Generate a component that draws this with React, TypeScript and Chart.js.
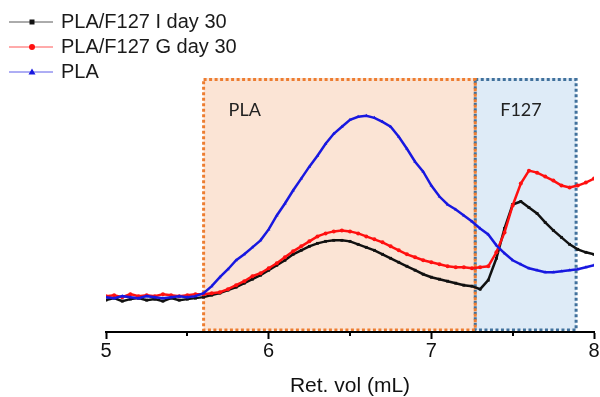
import React, { useEffect, useRef } from "react";
import { Chart, registerables } from "chart.js";

Chart.register(...registerables);

// Retention volume (mL)
const retVol = [
  5.0, 5.05, 5.1, 5.15, 5.2, 5.25, 5.3, 5.35, 5.4, 5.45, 5.5, 5.55, 5.6, 5.65, 5.7, 5.75, 5.8, 5.85, 5.9, 5.95,
  6.0, 6.05, 6.1, 6.15, 6.2, 6.25, 6.3, 6.35, 6.4, 6.45, 6.5, 6.55, 6.6, 6.65, 6.7, 6.75, 6.8, 6.85, 6.9, 6.95,
  7.0, 7.05, 7.1, 7.15, 7.2, 7.25, 7.3, 7.35, 7.4, 7.45, 7.5, 7.55, 7.6, 7.65, 7.7, 7.75, 7.8, 7.85, 7.9, 7.95,
  8.0,
];

const seriesLabels = ["PLA/F127 I day 30", "PLA/F127 G day 30", "PLA"];

// Detector response (arbitrary units)
const plaF127I = [
  3.2, 3.4, 3.1, 3.3, 3.4, 3.2, 3.3, 3.1, 3.4, 3.2, 3.3, 3.4, 3.5, 3.7, 3.9, 4.2, 4.5, 4.9, 5.3, 5.7,
  6.2, 6.7, 7.2, 7.8, 8.2, 8.6, 8.9, 9.1, 9.2, 9.2, 9.1, 8.8, 8.5, 8.2, 7.8, 7.4, 7.0, 6.6, 6.2, 5.8,
  5.5, 5.3, 5.1, 4.9, 4.7, 4.6, 4.3, 5.2, 7.4, 10.4, 12.8, 13.1, 12.5, 11.9, 11.0, 10.2, 9.5, 8.8, 8.3, 8.0,
  7.8,
];
const plaF127G = [
  3.6, 3.7, 3.5, 3.8, 3.6, 3.7, 3.6, 3.8, 3.7, 3.6, 3.7, 3.8, 3.8, 3.9, 4.0, 4.3, 4.7, 5.1, 5.6, 5.9,
  6.4, 6.9, 7.5, 8.1, 8.6, 9.1, 9.6, 9.9, 10.1, 10.2, 10.1, 9.9, 9.6, 9.3, 9.0, 8.6, 8.2, 7.8, 7.5, 7.2,
  7.0, 6.8, 6.6, 6.5, 6.5, 6.4, 6.5, 6.6, 8.0, 10.0, 12.7, 14.9, 16.2, 16.0, 15.6, 15.2, 14.7, 14.5, 14.7, 15.0,
  15.4,
];
const plaOnly = [
  3.5, 3.4, 3.6, 3.5, 3.4, 3.6, 3.5, 3.4, 3.5, 3.6, 3.5, 3.6, 3.9, 4.6, 5.5, 6.3, 7.2, 7.8, 8.5, 9.2,
  10.3, 11.7, 12.9, 14.2, 15.4, 16.6, 17.7, 18.9, 19.9, 20.6, 21.3, 21.6, 21.7, 21.5, 21.1, 20.6, 19.6, 18.4, 17.1, 16.1,
  14.7, 13.6, 12.8, 12.3, 11.7, 11.1, 10.4, 9.8, 8.7, 7.9, 7.2, 6.8, 6.4, 6.2, 6.0, 6.0, 6.1, 6.2, 6.3, 6.5,
  6.7,
];

const xTicks = [5, 6, 7, 8];
const xMinorTicks = [5.5, 6.5, 7.5];
const xTitle = "Ret. vol (mL)";

const regionLabels = ["PLA", "F127"];
const regionStart = [5.6, 7.27];
const regionEnd = [7.27, 7.89];

const SANS = "'Liberation Sans', Arial, sans-serif";

export default function App() {
  const ref = useRef<HTMLCanvasElement>(null);

  useEffect(() => {
    const canvas = ref.current;
    if (!canvas) return;

    const regionStyles = [
      { fill: "#FBE4D5", stroke: "#ED7D31" },
      { fill: "#DEEBF7", stroke: "#41719C" },
    ];

    const regionPlugin = {
      id: "regions",
      beforeDraw(chart: any) {
        const { ctx, chartArea } = chart;
        const x = chart.scales.x;
        const top = chartArea.top;
        const bottom = chartArea.bottom - 2;
        ctx.save();
        for (let i = 0; i < regionStart.length; i++) {
          const l = x.getPixelForValue(regionStart[i]);
          const r = x.getPixelForValue(regionEnd[i]);
          ctx.fillStyle = regionStyles[i].fill;
          ctx.fillRect(l, top, r - l, bottom - top);
        }
        ctx.lineWidth = 3;
        ctx.setLineDash([3, 2.5]);
        for (let i = regionStart.length - 1; i >= 0; i--) {
          const l = x.getPixelForValue(regionStart[i]);
          const r = x.getPixelForValue(regionEnd[i]);
          ctx.strokeStyle = regionStyles[i].stroke;
          ctx.strokeRect(l, top + 1.5, r - l, bottom - top - 1.5);
        }
        ctx.setLineDash([]);
        ctx.fillStyle = "#222";
        ctx.font = "18px Lato, 'Open Sans', sans-serif";
        ctx.textBaseline = "middle";
        ctx.textAlign = "left";
        for (let i = 0; i < regionLabels.length; i++) {
          const l = x.getPixelForValue(regionStart[i]);
          ctx.fillText(regionLabels[i], l + 25, top + 32);
        }
        ctx.restore();
      },
    };

    const extrasPlugin = {
      id: "extras",
      afterDraw(chart: any) {
        const { ctx, chartArea } = chart;
        const x = chart.scales.x;
        ctx.save();
        // minor ticks
        ctx.strokeStyle = "#000";
        ctx.lineWidth = 2;
        for (const v of xMinorTicks) {
          const px = Math.round(x.getPixelForValue(v));
          ctx.beginPath();
          ctx.moveTo(px, chartArea.bottom);
          ctx.lineTo(px, chartArea.bottom + 4);
          ctx.stroke();
        }
        // legend
        const ds = chart.data.datasets;
        ctx.font = "20px " + SANS;
        ctx.textBaseline = "middle";
        ctx.textAlign = "left";
        for (let i = 0; i < ds.length; i++) {
          const yy = 22 + i * 25;
          const col = ds[i].borderColor;
          ctx.globalAlpha = 0.7;
          ctx.strokeStyle = col;
          ctx.lineWidth = 1;
          ctx.beginPath();
          ctx.moveTo(9, yy);
          ctx.lineTo(53, yy);
          ctx.stroke();
          ctx.globalAlpha = 1;
          ctx.fillStyle = col;
          const ps = ds[i].pointStyle;
          const cx = 32;
          ctx.beginPath();
          if (ps === "rect") {
            ctx.rect(cx - 2.5, yy - 2.5, 5, 5);
          } else if (ps === "circle") {
            ctx.arc(cx, yy, 3, 0, Math.PI * 2);
          } else {
            ctx.moveTo(cx, yy - 3.5);
            ctx.lineTo(cx + 3.5, yy + 2.5);
            ctx.lineTo(cx - 3.5, yy + 2.5);
            ctx.closePath();
          }
          ctx.fill();
          ctx.fillStyle = "#1a1a1a";
          ctx.fillText(ds[i].label, 61, yy);
        }
        ctx.restore();
      },
    };

    const mk = (label: string, ys: number[], color: string, pointStyle: string, order: number) => ({
      label,
      data: retVol.map((v, i) => ({ x: v, y: ys[i] })),
      borderColor: color,
      backgroundColor: color,
      borderWidth: 2.5,
      pointStyle,
      pointRadius: 2,
      pointBorderWidth: 0,
      order,
      tension: 0,
    });

    const chart = new Chart(canvas, {
      type: "line",
      data: {
        datasets: [
          mk(seriesLabels[0], plaF127I, "#111111", "rect", 3),
          mk(seriesLabels[1], plaF127G, "#FF1010", "circle", 2),
          mk(seriesLabels[2], plaOnly, "#1818E0", "triangle", 1),
        ] as any,
      },
      options: {
        responsive: false,
        animation: false,
        layout: { padding: { top: 78, left: 106, right: 6, bottom: 0 } },
        plugins: { legend: { display: false }, tooltip: { enabled: false } },
        scales: {
          x: {
            type: "linear",
            min: 5,
            max: 8,
            afterBuildTicks: (s: any) => {
              s.ticks = xTicks.map((v) => ({ value: v }));
            },
            afterFit: (s: any) => {
              s.height = 65;
            },
            border: { display: true, color: "#000", width: 2 },
            grid: {
              display: true,
              drawOnChartArea: false,
              drawTicks: true,
              tickLength: 7,
              tickColor: "#000",
              tickWidth: 2,
            },
            ticks: {
              font: { family: SANS, size: 20 },
              color: "#111",
              padding: 0,
              maxRotation: 0,
              autoSkip: false,
              callback: (v: any) => String(v),
            },
            title: {
              display: true,
              text: xTitle,
              font: { family: SANS, size: 21, lineHeight: 1 },
              color: "#111",
              padding: { top: 0, bottom: 0 },
            },
          },
          y: { display: false, min: 0, max: 25.5 },
        },
      } as any,
      plugins: [regionPlugin, extrasPlugin],
    });

    return () => chart.destroy();
  }, []);

  return (
    <div style={{ position: "absolute", left: 0, top: 0, width: 600, height: 397, background: "#fff" }}>
      <canvas ref={ref} width={600} height={397} style={{ width: 600, height: 397, display: "block" }} />
    </div>
  );
}
